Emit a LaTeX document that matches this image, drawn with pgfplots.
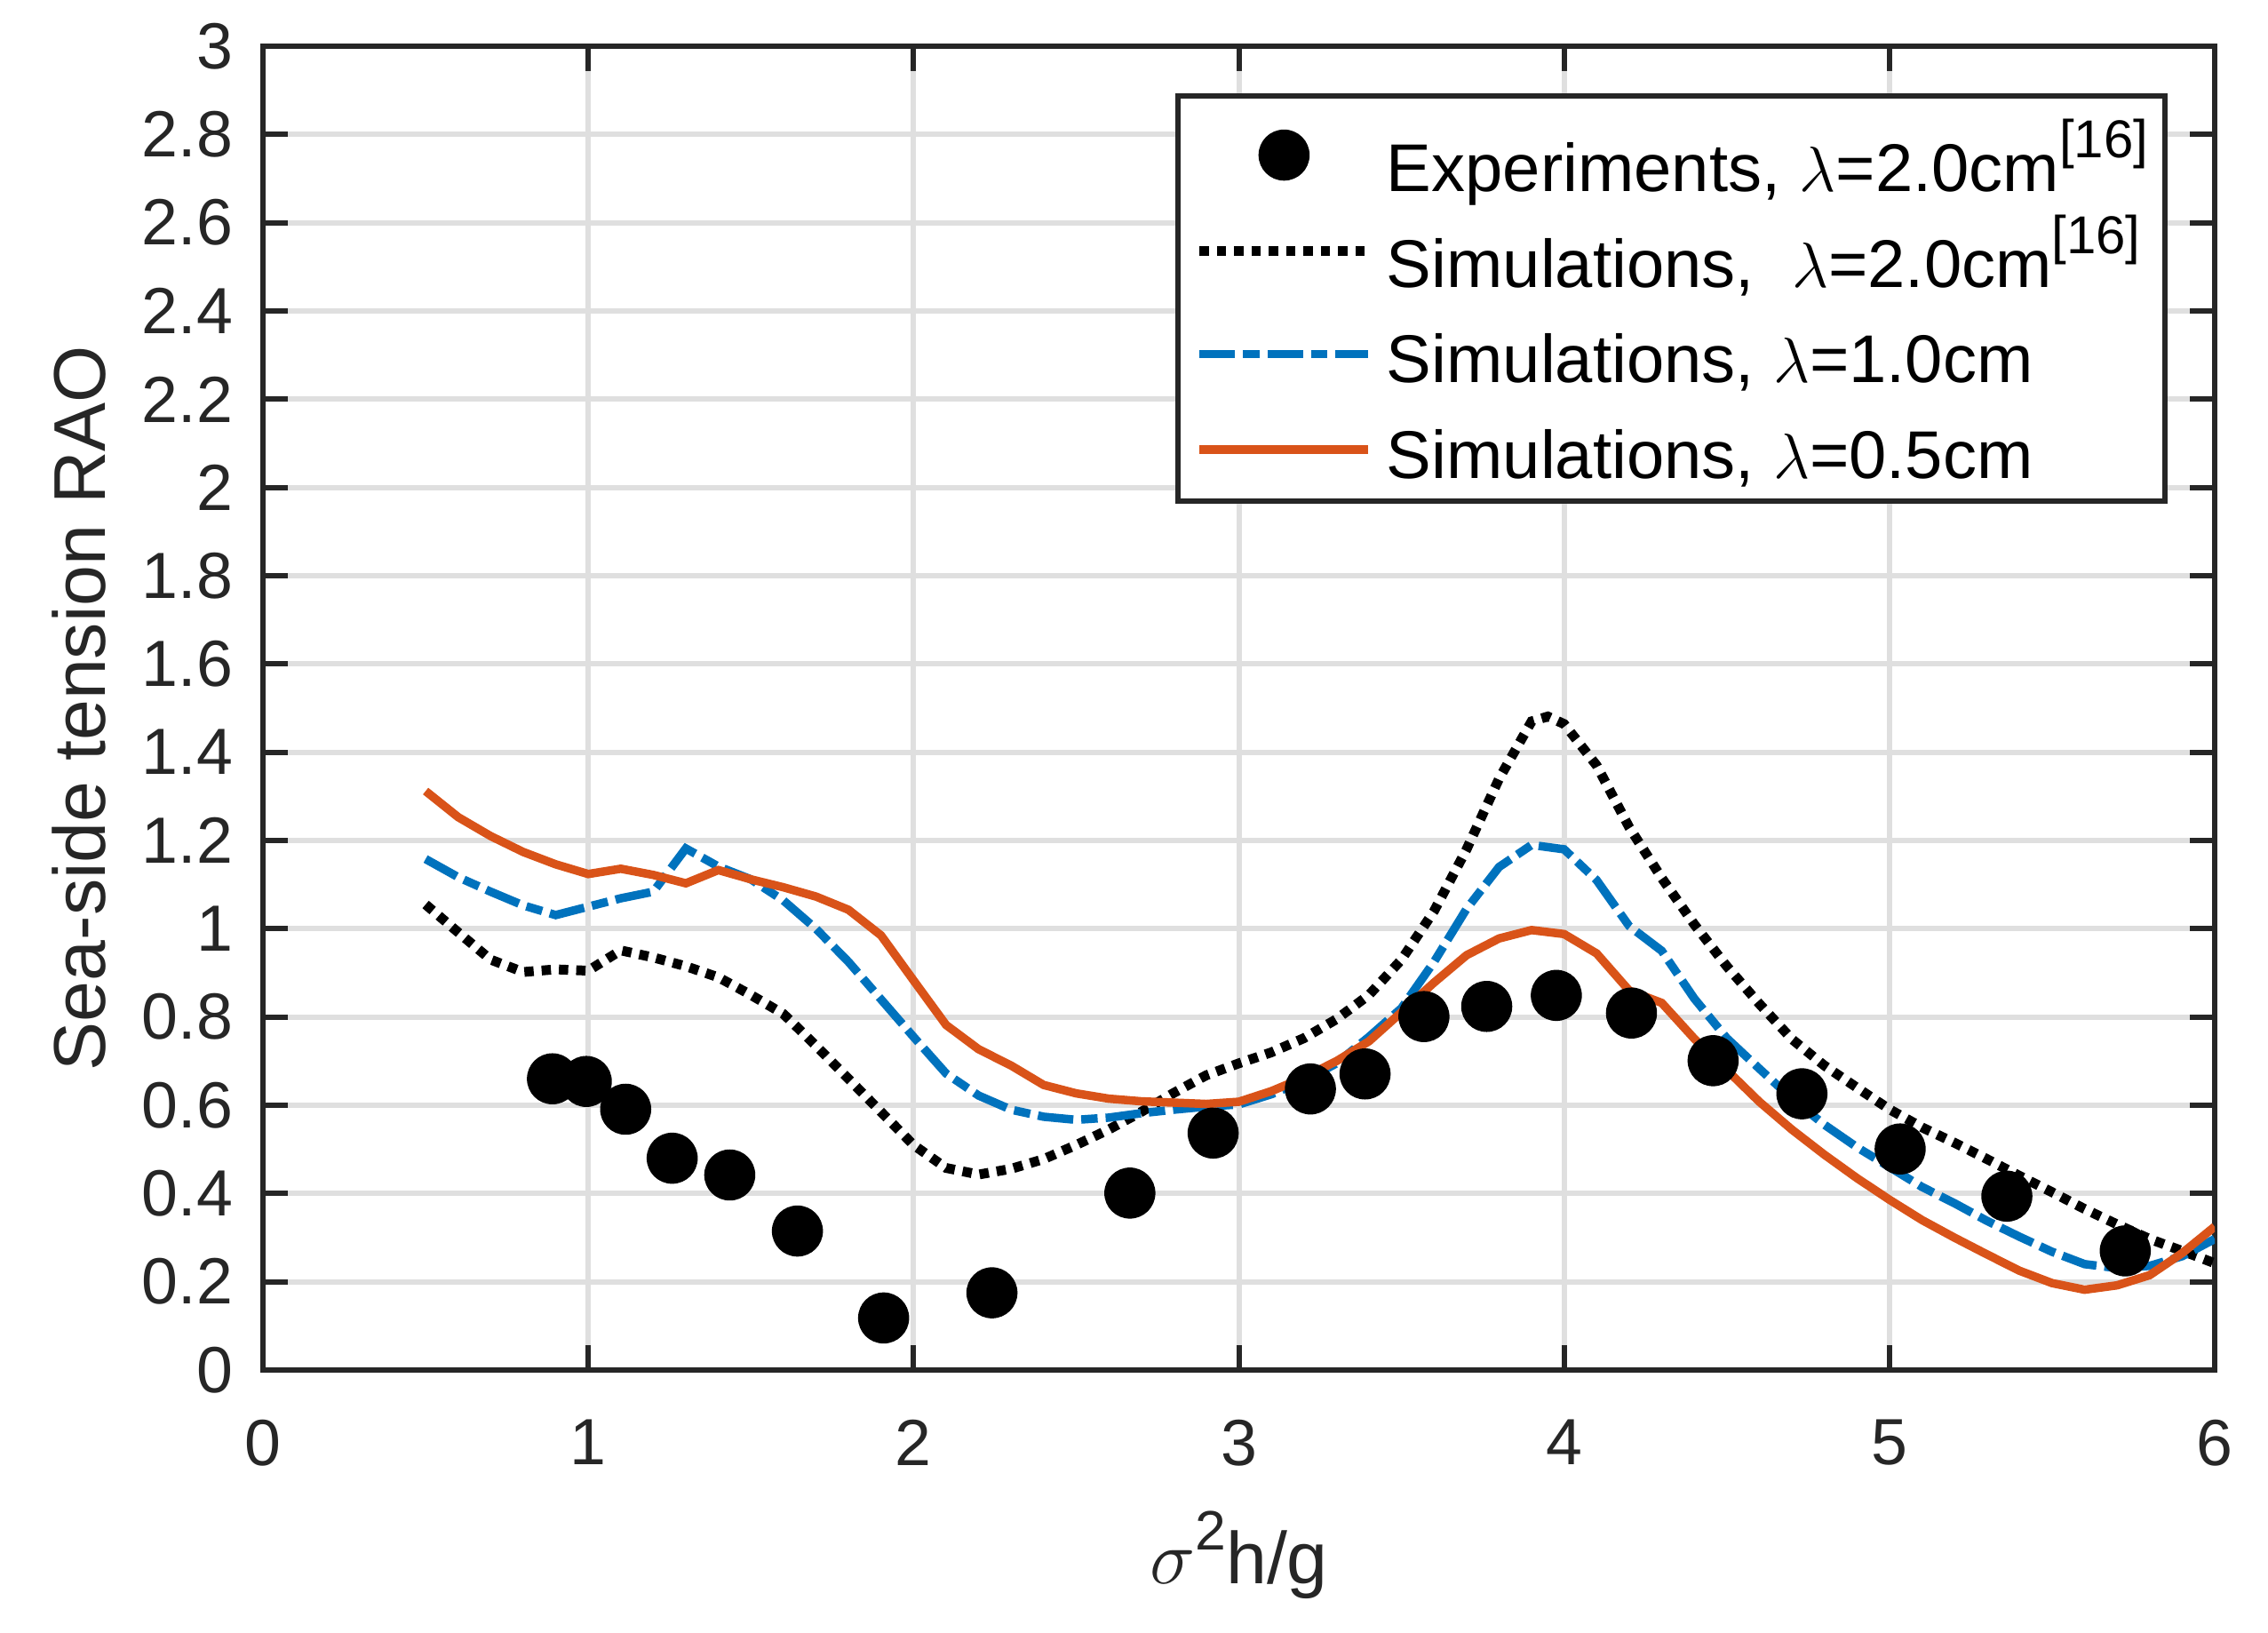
\documentclass[border=0pt]{standalone}
\usepackage{fontspec}
\setmainfont{Liberation Sans}
\usepackage{pgfplots}
\pgfplotsset{compat=1.18}
\definecolor{axisgray}{RGB}{38,38,38}
\definecolor{gridgray}{RGB}{223,223,223}
\definecolor{mblue}{RGB}{0,114,189}
\definecolor{morange}{RGB}{217,83,25}
\newcommand{\refsup}[1]{\raisebox{7.6pt}{\fontsize{12}{12}\selectfont #1}}
\pgfplotsset{
  legmark/.style={legend image code/.code={\draw[mark repeat=2,mark phase=2,##1] plot coordinates {(0pt,0pt)(19pt,0pt)(38pt,0pt)};}},
  leglineA/.style={legend image code/.code={\draw[##1] (0pt,0pt) -- (38pt,0pt);}},
  leglineB/.style={legend image code/.code={\draw[##1] (0pt,-1.8pt) -- (38pt,-1.8pt);}},
}
\begin{document}
\begin{tikzpicture}
\useasboundingbox (-59.2pt,-59pt) rectangle (451.4pt,308.4pt);
\begin{axis}[
  at={(0pt,0pt)}, anchor=south west,
  scale only axis, width=439.4pt, height=298pt,
  xmin=0, xmax=6, ymin=0, ymax=3,
  enlargelimits=false,
  xtick={0,1,2,3,4,5,6},
  xticklabels={0,1,2,3,4,5,6},
  ytick={0,0.2,0.4,0.6,0.8,1,1.2,1.4,1.6,1.8,2,2.2,2.4,2.6,2.8,3},
  yticklabels={0,0.2,0.4,0.6,0.8,1,1.2,1.4,1.6,1.8,2,2.2,2.4,2.6,2.8,3},
  /pgf/number format/assume math mode=true,
  tick align=inside, tick pos=both,
  major tick length=5.6pt,
  tick style={line width=1.2pt, color=axisgray},
  axis line style={line width=1.2pt, color=axisgray},
  grid=major,
  major grid style={line width=1.2pt, color=gridgray},
  ticklabel style={font=\fontsize{14.7}{16}\selectfont, text=axisgray},
  xticklabel style={anchor=north, inner sep=0pt, yshift=-11pt},
  yticklabel style={anchor=east, inner sep=0pt, xshift=-6.6pt},
  xlabel={$\sigma$\raisebox{7.6pt}{\fontsize{12.5}{13}\selectfont 2}h/g},
  ylabel={Sea-side tension RAO},
  label style={font=\fontsize{16.5}{18}\selectfont, text=axisgray},
  xlabel style={at={(axis description cs:0.5,-0.1617)}, anchor=base, inner sep=0pt},
  ylabel style={at={(axis description cs:-0.081,0.5)}, anchor=base, inner sep=0pt},
  legend style={at={(axis description cs:0.9759,0.9644)}, anchor=north east,
    draw=axisgray, line width=1.2pt, fill=white,
    inner xsep=3.8pt, inner ysep=2.55pt, row sep=0pt,
    /tikz/column sep=3.0pt,
    font=\fontsize{15.2}{16}\selectfont, text=black,
    nodes={text height=18pt, text depth=1.5pt, inner xsep=0pt, inner ysep=1pt, anchor=west}},
  legend cell align=left,
]
\addplot[only marks, mark=*, mark size=5.6pt, mark options={fill=black, draw=black, line width=0.3pt}, legmark]
table {
0.890 0.660
0.994 0.654
1.115 0.591
1.258 0.480
1.435 0.442
1.643 0.315
1.908 0.118
2.241 0.175
2.665 0.401
2.921 0.537
3.220 0.637
3.388 0.671
3.569 0.801
3.762 0.824
3.976 0.849
4.207 0.809
4.458 0.701
4.731 0.626
5.033 0.501
5.361 0.394
5.725 0.270
};
\addlegendentry{Experiments, $\lambda$=2.0cm\refsup{[16]}}
\addplot[black, line width=2.2pt, dash pattern=on 2.1pt off 1.8pt, leglineA]
table {
0.5 1.055
0.6 0.992
0.7 0.930
0.8 0.902
0.9 0.908
1.0 0.905
1.1 0.951
1.2 0.935
1.3 0.915
1.4 0.890
1.5 0.850
1.6 0.807
1.7 0.735
1.8 0.660
1.9 0.585
2.0 0.510
2.1 0.458
2.2 0.443
2.3 0.456
2.4 0.478
2.5 0.510
2.6 0.545
2.7 0.585
2.8 0.628
2.9 0.668
3.0 0.695
3.1 0.720
3.2 0.752
3.3 0.795
3.4 0.850
3.5 0.930
3.6 1.040
3.7 1.180
3.8 1.340
3.9 1.470
3.95 1.481
4.0 1.464
4.1 1.370
4.2 1.230
4.3 1.115
4.4 1.010
4.5 0.915
4.6 0.830
4.7 0.750
4.8 0.690
4.9 0.640
5.0 0.591
5.1 0.550
5.2 0.515
5.3 0.478
5.4 0.440
5.5 0.403
5.6 0.365
5.7 0.330
5.8 0.297
5.9 0.270
6.0 0.242
};
\addlegendentry{Simulations,\ \ $\lambda$=2.0cm\refsup{[16]}}
\addplot[mblue, line width=1.9pt, dash pattern=on 8pt off 1.8pt on 3.7pt off 1.8pt, leglineB]
table {
0.5 1.158
0.6 1.117
0.7 1.084
0.8 1.053
0.9 1.031
1.0 1.050
1.1 1.069
1.2 1.084
1.3 1.182
1.4 1.141
1.5 1.112
1.6 1.064
1.7 1.000
1.8 0.925
1.9 0.840
2.0 0.755
2.1 0.672
2.2 0.622
2.3 0.590
2.4 0.574
2.5 0.567
2.6 0.572
2.7 0.582
2.8 0.590
2.9 0.597
3.0 0.602
3.1 0.625
3.2 0.655
3.3 0.695
3.4 0.755
3.5 0.820
3.6 0.925
3.7 1.045
3.8 1.140
3.9 1.190
4.0 1.180
4.1 1.110
4.2 1.006
4.3 0.950
4.4 0.842
4.5 0.752
4.6 0.683
4.7 0.615
4.8 0.556
4.9 0.505
5.0 0.460
5.1 0.415
5.2 0.378
5.3 0.338
5.4 0.302
5.5 0.268
5.6 0.240
5.7 0.231
5.8 0.236
5.9 0.258
6.0 0.297
};
\addlegendentry{Simulations, $\lambda$=1.0cm}
\addplot[morange, line width=1.9pt, leglineB]
table {
0.5 1.312
0.6 1.253
0.7 1.210
0.8 1.174
0.9 1.146
1.0 1.124
1.1 1.136
1.2 1.122
1.3 1.103
1.4 1.133
1.5 1.112
1.6 1.094
1.7 1.073
1.8 1.043
1.9 0.985
2.0 0.883
2.1 0.782
2.2 0.727
2.3 0.690
2.4 0.646
2.5 0.627
2.6 0.615
2.7 0.609
2.8 0.606
2.9 0.603
3.0 0.608
3.1 0.632
3.2 0.663
3.3 0.700
3.4 0.745
3.5 0.811
3.6 0.878
3.7 0.940
3.8 0.978
3.9 0.997
4.0 0.988
4.1 0.944
4.2 0.860
4.3 0.832
4.4 0.751
4.5 0.680
4.6 0.608
4.7 0.545
4.8 0.488
4.9 0.435
5.0 0.386
5.1 0.340
5.2 0.300
5.3 0.262
5.4 0.225
5.5 0.197
5.6 0.182
5.7 0.192
5.8 0.215
5.9 0.265
6.0 0.325
};
\addlegendentry{Simulations, $\lambda$=0.5cm}
\end{axis}
\end{tikzpicture}
\end{document}
